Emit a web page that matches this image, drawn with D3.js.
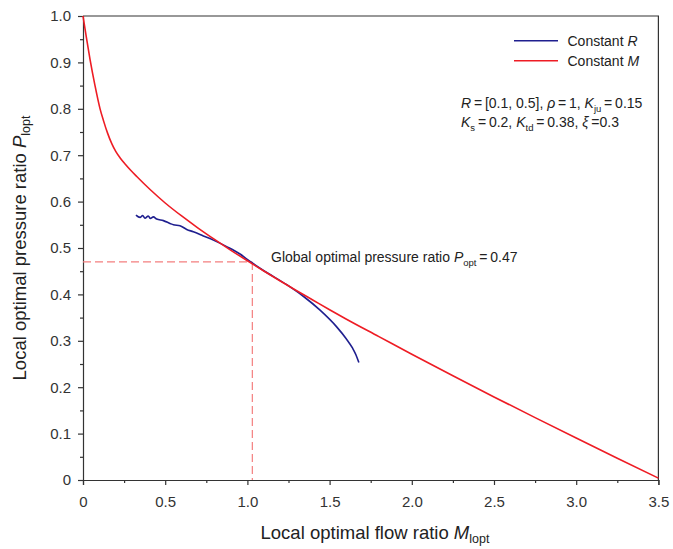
<!DOCTYPE html>
<html>
<head>
<meta charset="utf-8">
<script src="https://cdn.jsdelivr.net/npm/d3@7"></script>
<style>
  html, body { margin: 0; padding: 0; background: #fff; }
  svg { display: block; font-family: "Liberation Sans", Arial, sans-serif; }
</style>
</head>
<body>
<svg id="chart" width="673" height="549"></svg>
<script>
// Constant M curve: local optimal flow ratio vs local optimal pressure ratio
const constMx = [0, 0.02, 0.043, 0.073, 0.103, 0.125, 0.15, 0.175, 0.2, 0.225, 0.256, 0.29, 0.327, 0.408, 0.5, 0.6, 0.7, 0.8, 0.9, 1.0, 1.1, 1.2, 1.3, 1.4, 1.5, 1.6, 1.8, 2.0, 2.25, 2.5, 2.75, 3.0, 3.25, 3.5];
const constMy = [1.0, 0.955, 0.906, 0.850, 0.801, 0.774, 0.747, 0.7248, 0.7075, 0.6945, 0.681, 0.6675, 0.654, 0.626, 0.597, 0.569, 0.543, 0.5185, 0.495, 0.4725, 0.4505, 0.429, 0.408, 0.3875, 0.367, 0.347, 0.309, 0.271, 0.2245, 0.179, 0.1345, 0.0905, 0.047, 0.004];

// Constant R curve
const constRx = [0.322, 0.347, 0.363, 0.377, 0.397, 0.41, 0.428, 0.448, 0.489, 0.529, 0.55, 0.59, 0.631, 0.671, 0.732, 0.793, 0.874, 0.955, 1.016, 1.1, 1.239, 1.34, 1.442, 1.543, 1.6, 1.64, 1.66, 1.678];
const constRy = [0.571, 0.566, 0.570, 0.564, 0.569, 0.5635, 0.567, 0.5625, 0.559, 0.553, 0.55, 0.548, 0.540, 0.535, 0.526, 0.517, 0.503, 0.487, 0.471, 0.451, 0.421, 0.396, 0.366, 0.330, 0.305, 0.284, 0.27, 0.253];

// Global optimum marker
const optM = 1.03;
const optP = 0.47;

const xMajorTicks = [0, 0.5, 1.0, 1.5, 2.0, 2.5, 3.0, 3.5];
const xTickLabels = ["0", "0.5", "1.0", "1.5", "2.0", "2.5", "3.0", "3.5"];
const xMinorTicks = [0.25, 0.75, 1.25, 1.75, 2.25, 2.75, 3.25];
const yMajorTicks = [0, 0.1, 0.2, 0.3, 0.4, 0.5, 0.6, 0.7, 0.8, 0.9, 1.0];
const yTickLabels = ["0", "0.1", "0.2", "0.3", "0.4", "0.5", "0.6", "0.7", "0.8", "0.9", "1.0"];
const yMinorTicks = [0.05, 0.15, 0.25, 0.35, 0.45, 0.55, 0.65, 0.75, 0.85, 0.95];

const svg = d3.select("#chart");
const plotL = 83, plotT = 16, plotR = 658.4, plotB = 480;
const axisColor = "#333";
const red = "#ee1c24", blue = "#1f1f8f", dashRed = "#f47f7f";

const x = d3.scaleLinear().domain([0, 3.5]).range([plotL, plotR]);
const y = d3.scaleLinear().domain([0, 1]).range([plotB, plotT]);

// frame (top and right edges)
svg.append("path")
  .attr("d", `M${plotL},${plotT}H${plotR}V${plotB}`)
  .attr("fill", "none").attr("stroke", axisColor).attr("stroke-width", 1.2);

// x axis
svg.append("g").attr("transform", `translate(0,${plotB})`)
  .call(d3.axisBottom(x).tickValues(xMajorTicks).tickSize(5).tickPadding(11)
    .tickFormat((d, i) => xTickLabels[i]));
svg.append("g").attr("transform", `translate(0,${plotB})`)
  .call(d3.axisBottom(x).tickValues(xMinorTicks).tickSize(3).tickFormat(""))
  .select(".domain").remove();

// y axis
svg.append("g").attr("transform", `translate(${plotL},0)`)
  .call(d3.axisLeft(y).tickValues(yMajorTicks).tickSize(5).tickPadding(7)
    .tickFormat((d, i) => yTickLabels[i]));
svg.append("g").attr("transform", `translate(${plotL},0)`)
  .call(d3.axisLeft(y).tickValues(yMinorTicks).tickSize(3).tickFormat(""))
  .select(".domain").remove();

svg.selectAll(".domain").attr("stroke", axisColor).attr("stroke-width", 1.2);
svg.selectAll(".tick line").attr("stroke", axisColor).attr("stroke-width", 1.2);
svg.selectAll(".tick text").attr("fill", "#333").style("font-size", "15px")
  .style("font-family", "'Liberation Sans', Arial, sans-serif");

// dashed guides at the global optimum
const guide = svg.append("g").attr("stroke", dashRed).attr("stroke-width", 1.2)
  .attr("stroke-dasharray", "8,4").attr("fill", "none");
guide.append("line").attr("x1", x(0)).attr("x2", x(optM)).attr("y1", y(optP)).attr("y2", y(optP));
guide.append("line").attr("x1", x(optM)).attr("x2", x(optM)).attr("y1", y(optP)).attr("y2", y(0));

// curves
const line = d3.line().x(d => x(d[0])).y(d => y(d[1])).curve(d3.curveMonotoneX);
svg.append("path").datum(constRx.map((v, i) => [v, constRy[i]]))
  .attr("d", line)
  .attr("fill", "none").attr("stroke", blue).attr("stroke-width", 1.6);
svg.append("path").datum(constMx.map((v, i) => [v, constMy[i]]))
  .attr("d", line)
  .attr("fill", "none").attr("stroke", red).attr("stroke-width", 1.6);

// legend
const legend = [
  { label: "Constant ", sym: "R", color: blue },
  { label: "Constant ", sym: "M", color: red }
];
legend.forEach((item, i) => {
  const ly = 40.7 + i * 20;
  svg.append("line").attr("x1", 514).attr("x2", 558).attr("y1", ly).attr("y2", ly)
    .attr("stroke", item.color).attr("stroke-width", 1.6);
  const t = svg.append("text").attr("x", 567.5).attr("y", ly + 5).attr("fill", "#222")
    .style("font-size", "14px");
  t.append("tspan").text(item.label);
  t.append("tspan").attr("font-style", "italic").text(item.sym);
});

// parameter annotation
function richText(xp, yp, parts, size) {
  const t = svg.append("text").attr("x", xp).attr("y", yp).attr("fill", "#222")
    .style("font-size", size + "px");
  parts.forEach(p => {
    const s = t.append("tspan").text(p.t);
    if (p.i) s.attr("font-style", "italic");
    if (p.sub) {
      s.style("font-size", (size * 0.68) + "px").attr("dy", size * 0.25);
    }
    if (p.back) s.attr("dy", -size * 0.25);
  });
  return t;
}
richText(461, 108, [
  { t: "R", i: true }, { t: "\u2009=\u2009[0.1, 0.5], " },
  { t: "\u03C1", i: true }, { t: "\u2009=\u20091, " },
  { t: "K", i: true }, { t: "ju", sub: true }, { t: "\u2009=\u20090.15", back: true }
], 14);
richText(461, 127, [
  { t: "K", i: true }, { t: "s", sub: true }, { t: "\u2009=\u20090.2, ", back: true },
  { t: "K", i: true }, { t: "td", sub: true }, { t: "\u2009=\u20090.38, ", back: true },
  { t: "\u03BE", i: true }, { t: "\u2009=0.3" }
], 14);

richText(271, 262, [
  { t: "Global optimal pressure ratio " },
  { t: "P", i: true }, { t: "opt", sub: true }, { t: "\u2009=\u20090.47", back: true }
], 14);

// axis titles
const xt = svg.append("text").attr("x", 375).attr("y", 539).attr("text-anchor", "middle")
  .attr("fill", "#222").style("font-size", "18.5px");
xt.append("tspan").text("Local optimal flow ratio ");
xt.append("tspan").attr("font-style", "italic").text("M");
xt.append("tspan").style("font-size", "12.5px").attr("dy", 4).text("lopt");

const yt = svg.append("text").attr("transform", `translate(26,${(plotT + plotB) / 2}) rotate(-90)`)
  .attr("text-anchor", "middle").attr("fill", "#222").style("font-size", "18.5px");
yt.append("tspan").text("Local optimal pressure ratio ");
yt.append("tspan").attr("font-style", "italic").text("P");
yt.append("tspan").style("font-size", "12.5px").attr("dy", 4).text("lopt");
</script>
</body>
</html>
